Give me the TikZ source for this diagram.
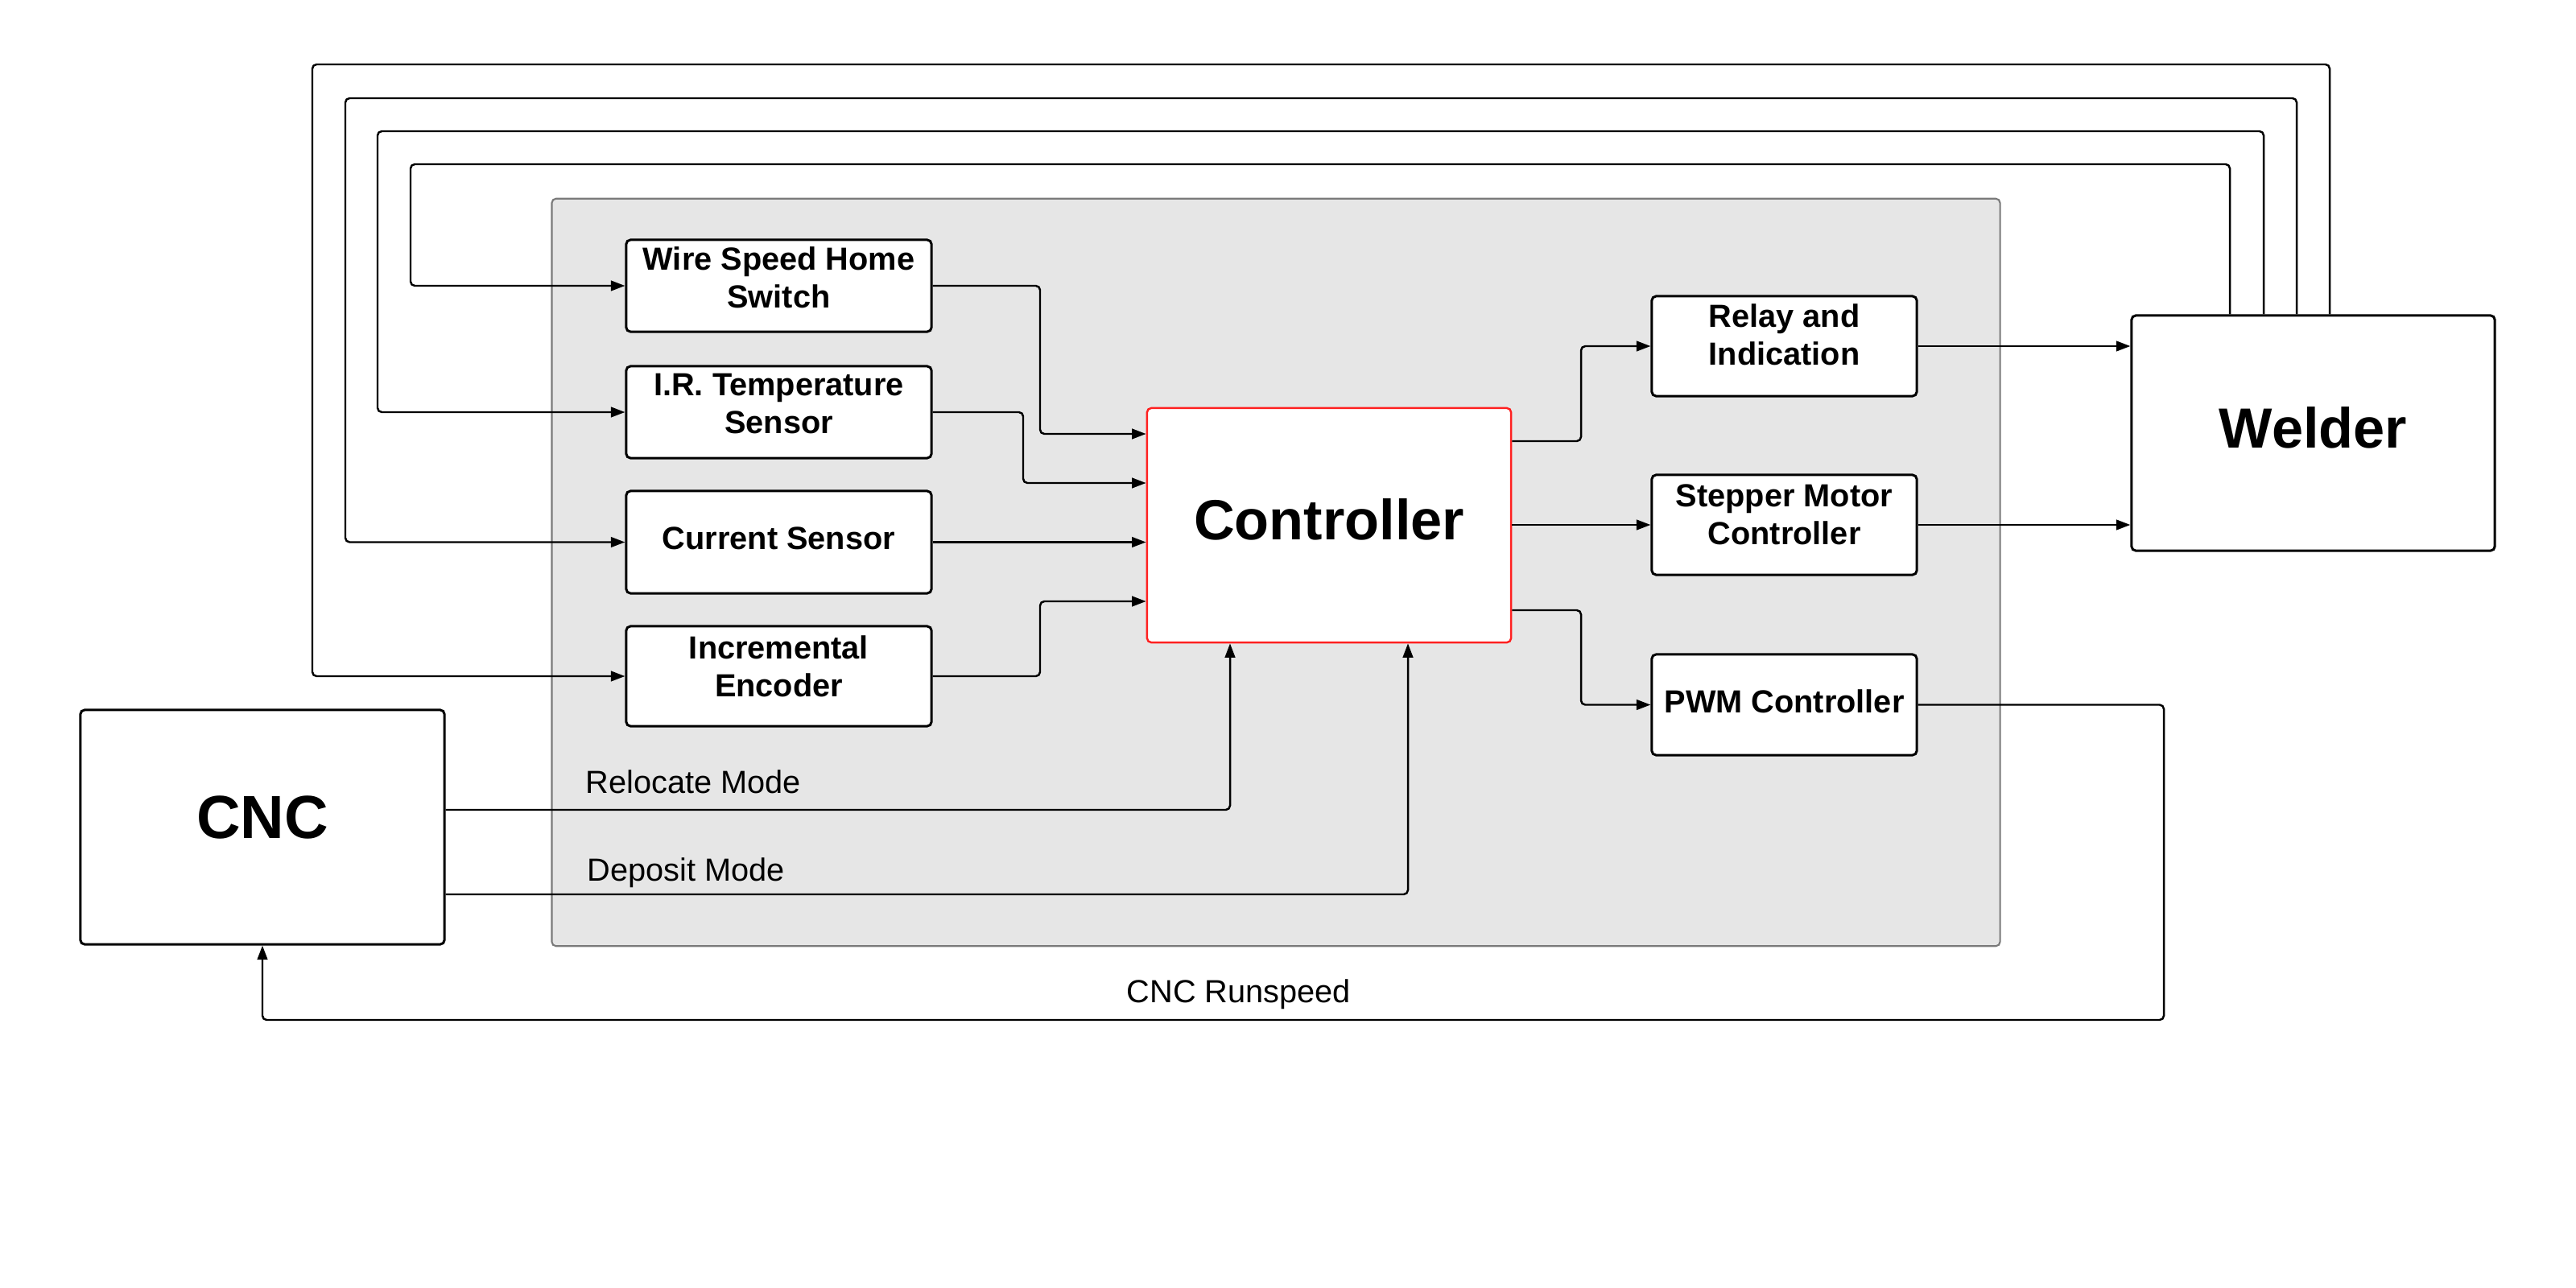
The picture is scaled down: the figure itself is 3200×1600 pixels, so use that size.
\documentclass[tikz,border=0pt]{standalone}
\usepackage{fontspec}
\setmainfont{Liberation Sans}
\usetikzlibrary{arrows.meta}
\definecolor{panel}{HTML}{E6E6E6}
\definecolor{panelborder}{HTML}{7A7A7A}
\definecolor{ctrlred}{HTML}{FF2020}
\begin{document}
\begin{tikzpicture}[x=0.01cm,y=-0.01cm,
  box/.style={draw=black, line width=0.85pt, rounded corners=1.5pt, fill=white, inner sep=0pt},
  lbl/.style={font=\fontsize{11.3}{13.4}\selectfont\bfseries, align=center},
  big/.style={font=\fontsize{20}{24}\selectfont\bfseries},
  note/.style={font=\fontsize{11.3}{13.4}\selectfont},
  conn/.style={line width=0.7pt, rounded corners=1.5pt},
  arr/.style={conn, -{Triangle[length=5pt,width=3.6pt]}}]
\useasboundingbox (0,0) rectangle (3200,1600);
% panel
\node[draw=panelborder, line width=0.6pt, fill=panel, rounded corners=1.5pt, minimum width=17.98cm, minimum height=9.28cm, inner sep=0pt] (panel) at (1585,711) {};
% boxes
\node[box, minimum width=3.79cm, minimum height=1.14cm] (ws) at (967.5,355) {};
\node[box, minimum width=3.79cm, minimum height=1.14cm] (ir) at (967.5,512) {};
\node[box, minimum width=3.79cm, minimum height=1.27cm] (cur) at (967.5,673.5) {};
\node[box, minimum width=3.79cm, minimum height=1.24cm] (enc) at (967.5,840) {};
\node[box, draw=ctrlred, line width=0.7pt, minimum width=4.52cm, minimum height=2.91cm] (ctrl) at (1651,652.5) {};
\node[box, minimum width=3.29cm, minimum height=1.24cm] (relay) at (2216.5,430) {};
\node[box, minimum width=3.29cm, minimum height=1.24cm] (step) at (2216.5,652) {};
\node[box, minimum width=3.29cm, minimum height=1.25cm] (pwm) at (2216.5,875.5) {};
\node[box, minimum width=4.51cm, minimum height=2.92cm] (wel) at (2873.5,538) {};
\node[box, minimum width=4.52cm, minimum height=2.91cm] (cnc) at (326,1027.5) {};
% box texts
\node[lbl] (wst) at ([yshift=3pt]ws.center) {Wire Speed Home\\Switch};
\node[lbl] (irt) at ([yshift=3pt]ir.center) {I.R. Temperature\\Sensor};
\node[lbl] (curt) at ([yshift=1.2pt]cur.center) {Current Sensor};
\node[lbl] (enct) at ([yshift=3.5pt]enc.center) {Incremental\\Encoder};
\node[lbl] (relayt) at ([yshift=4pt]relay.center) {Relay and\\Indication};
\node[lbl] (stept) at ([yshift=3.5pt]step.center) {Stepper Motor\\Controller};
\node[lbl] (pwmt) at ([yshift=1.2pt]pwm.center) {PWM Controller};
\node[big] (ctrlt) at ([yshift=2pt]ctrl.center) {Controller};
\node[big] (welt) at ([yshift=2pt]wel.center) {Welder};
\node[big, font=\fontsize{21.5}{25}\selectfont\bfseries] (cnct) at ([yshift=3.4pt]cnc.center) {CNC};
% free labels
\node[note, anchor=west, inner sep=0pt] (reloc) at (727,971) {Relocate Mode};
\node[note, anchor=west, inner sep=0pt] (depo) at (729,1084) {Deposit Mode};
\node[note, inner sep=0pt] (runspd) at (1539,1235) {CNC Runspeed};
% sensors -> controller
\draw[arr] (ws.east) -- (1292,355) -- (1292,539) -- (ctrl.west |- 0,539);
\draw[arr] (ir.east) -- (1271,512) -- (1271,600) -- (ctrl.west |- 0,600);
\draw[arr] (cur.east) -- (ctrl.west |- cur.east);
\draw[arr] (enc.east) -- (1292,840) -- (1292,747) -- (ctrl.west |- 0,747);
% controller -> outputs
\draw[arr] (ctrl.east |- 0,548) -- (1964,548) -- (1964,430) -- (relay.west);
\draw[arr] (ctrl.east |- step.west) -- (step.west);
\draw[arr] (ctrl.east |- 0,758) -- (1964,758) -- (1964,875.5) -- (pwm.west);
% outputs -> welder
\draw[arr] (relay.east) -- (wel.west |- relay.east);
\draw[arr] (step.east) -- (wel.west |- step.east);
% pwm -> cnc
\draw[arr] (pwm.east) -- (2688,875.5) -- (2688,1267) -- (326,1267) -- (cnc.south);
% cnc -> controller
\draw[arr] (cnc.east |- 0,1006) -- (1528,1006) -- (1528,0 |- ctrl.south);
\draw[arr] (cnc.east |- 0,1111) -- (1749,1111) -- (1749,0 |- ctrl.south);
% welder -> sensors
\draw[arr] (2770,0 |- wel.north) -- (2770,204) -- (510,204) -- (510,355) -- (ws.west);
\draw[arr] (2812,0 |- wel.north) -- (2812,163) -- (469,163) -- (469,512) -- (ir.west);
\draw[arr] (2853,0 |- wel.north) -- (2853,122) -- (429,122) -- (429,673.5) -- (cur.west);
\draw[arr] (2894,0 |- wel.north) -- (2894,80) -- (388,80) -- (388,840) -- (enc.west);
\end{tikzpicture}
\end{document}
